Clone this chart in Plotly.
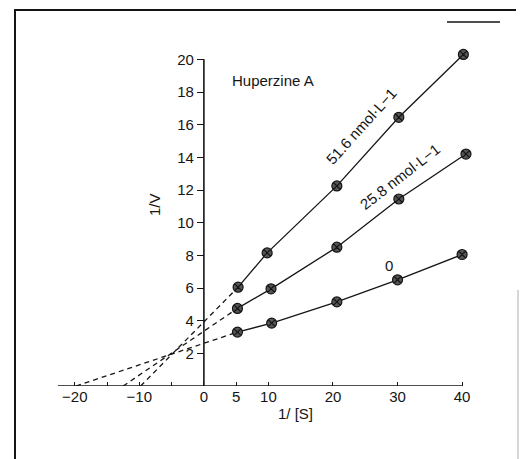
import plotly.graph_objects as go

# ---- data ----
x_0 = [5.2, 10.5, 20.6, 30.0, 40.0]
v_0 = [3.3, 3.85, 5.15, 6.5, 8.05]
x_258 = [5.2, 10.4, 20.6, 30.2, 40.6]
v_258 = [4.75, 5.95, 8.5, 11.45, 14.2]
x_516 = [5.3, 9.8, 20.6, 30.2, 40.2]
v_516 = [6.05, 8.15, 12.25, 16.45, 20.3]
x_intercepts = [-19.8, -12.5, -9.8]   # for 0, 25.8, 51.6
series_labels = ["0", "25.8 nmol·L−1", "51.6 nmol·L−1"]
x_tickvals = [-20, -15, -10, -5, 0, 5, 10, 20, 30, 40]
x_ticktext = ["−20", "", "−10", "", "0", "5", "10", "20", "30", "40"]
y_tickvals = [2, 4, 6, 8, 10, 12, 14, 16, 18, 20]

FONT = "Liberation Sans, Arial, sans-serif"
INK = "#151515"
FS = 15

xmin, xmax = -22.6, 42.0
ymin, ymax = 0.0, 21.0
x_axis_end = 40.0
y_axis_end = 20.0

fig = go.Figure()
series = [(x_0, v_0), (x_258, v_258), (x_516, v_516)]
for (xs, vs), xi in zip(series, x_intercepts):
    fig.add_trace(go.Scatter(
        x=[xi, xs[0]], y=[0, vs[0]], mode="lines",
        line=dict(color=INK, width=1.3, dash="5px,4px"),
        cliponaxis=False, showlegend=False, hoverinfo="skip"))
    fig.add_trace(go.Scatter(
        x=xs, y=vs, mode="lines+markers",
        line=dict(color=INK, width=1.3),
        marker=dict(symbol="circle-x", size=10, color="#555555",
                    line=dict(color=INK, width=1.2)),
        cliponaxis=False, showlegend=False))

# page offset of 8px (body margin)
L, T, W, H = 50, 35, 417, 343
fig.update_layout(
    width=530, height=459,
    margin=dict(l=L, r=530 - L - W, t=T, b=459 - T - H),
    paper_bgcolor="white", plot_bgcolor="white",
    font=dict(family=FONT, size=FS, color=INK),
    xaxis=dict(range=[xmin, xmax], showgrid=False, zeroline=False,
               showline=False,
               ticks="inside", ticklen=4, tickcolor=INK, tickwidth=1.2,
               tickvals=x_tickvals, ticktext=x_ticktext,
               tickfont=dict(size=FS, family=FONT, color=INK)),
    yaxis=dict(range=[ymin, ymax], showgrid=False, zeroline=False,
               showline=False,
               anchor="free", position=(0 - xmin) / (xmax - xmin),
               ticks="outside", ticklen=7, tickcolor=INK, tickwidth=1.2,
               tickvals=y_tickvals,
               tickfont=dict(size=FS, family=FONT, color=INK)),
)

# axis lines (x axis from left edge to 40, y axis from 0 to 20)
fig.add_shape(type="line", xref="x", yref="y", x0=xmin, y0=0,
              x1=x_axis_end, y1=0, line=dict(color=INK, width=1.6))
fig.add_shape(type="line", xref="x", yref="y", x0=0, y0=0,
              x1=0, y1=y_axis_end, line=dict(color=INK, width=1.6))

ann = [
    dict(x=4, y=18.7, text="Huperzine A", xanchor="left", yanchor="middle",
         textangle=0),
    dict(x=24.3, y=15.9, text=series_labels[2], textangle=-48),
    dict(x=30.4, y=12.8, text=series_labels[1], textangle=-38),
    dict(x=28.6, y=7.35, text=series_labels[0], textangle=0),
]
for a in ann:
    fig.add_annotation(xref="x", yref="y", showarrow=False,
                       font=dict(size=FS, family=FONT, color=INK), **a)


def px(xp):
    return (xp - 8 - L) / W


def py(yp):
    return (T + H + 8 - yp) / H


# axis titles
fig.add_annotation(xref="paper", yref="paper", x=px(155), y=py(205),
                   xanchor="center", yanchor="middle",
                   text="1/V", textangle=-90, showarrow=False,
                   font=dict(size=FS, family=FONT, color=INK))
fig.add_annotation(xref="paper", yref="paper", x=px(295), y=py(413),
                   xanchor="center", yanchor="middle",
                   text="1/ [S]", showarrow=False,
                   font=dict(size=FS, family=FONT, color=INK))

# scan frame
frame = [
    (px(14), py(10), px(516), py(10), 2, INK),
    (px(15), py(10), px(15), py(470), 2, INK),
    (px(447), py(22), px(500), py(22), 1.4, INK),
    (px(518), py(290), px(518), py(470), 0.8, "#9a9a9a"),
]
for x0, y0, x1, y1, w, c in frame:
    fig.add_shape(type="line", xref="paper", yref="paper",
                  x0=x0, y0=y0, x1=x1, y1=y1,
                  line=dict(color=c, width=w))

fig.write_html("out.html")
